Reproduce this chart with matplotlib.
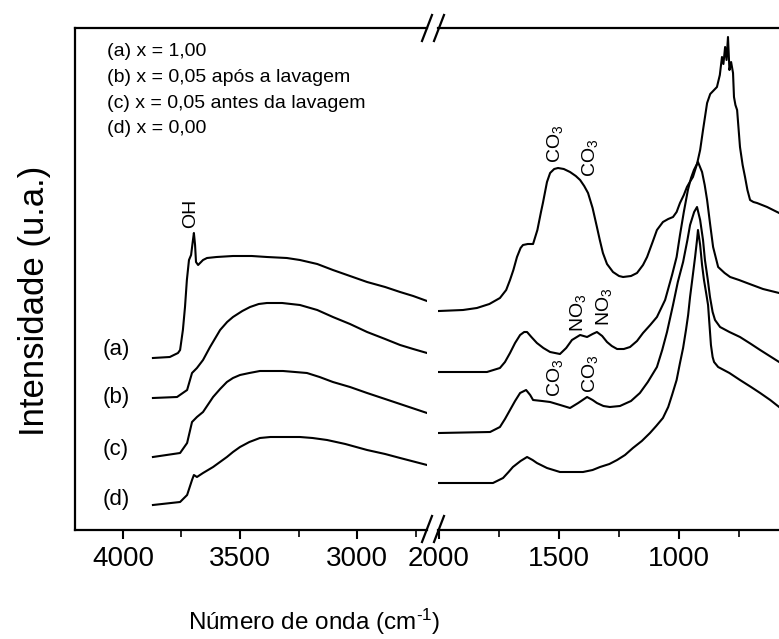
import matplotlib
matplotlib.use("Agg")
import matplotlib.pyplot as plt
from matplotlib.lines import Line2D
from matplotlib.ticker import MultipleLocator

plt.rcParams['font.family'] = ['Liberation Sans', 'DejaVu Sans']
plt.rcParams['mathtext.fontset'] = 'custom'
plt.rcParams['mathtext.rm'] = 'Liberation Sans'
plt.rcParams['mathtext.it'] = 'Liberation Sans'

# ---------------- data (high wavenumber segment) ----------------
wn_a_hi = [3872, 3800, 3765, 3756, 3744, 3735, 3727, 3718, 3709, 3701, 3697, 3692, 3688,
           3679, 3658, 3641, 3600, 3530, 3450, 3385, 3300, 3244, 3170, 3103, 3030, 2957,
           2880, 2816, 2760, 2701]
int_a_hi = [172, 173, 177, 180, 200, 223, 250, 270, 275, 290, 297, 285, 268,
            265, 270, 272, 273, 274, 274, 273, 272, 270, 266, 260, 254, 248,
            243, 238, 234, 229]

wn_b_hi = [3872, 3769, 3726, 3705, 3684, 3658, 3628, 3585, 3555, 3530, 3490, 3457, 3420,
           3385, 3320, 3244, 3170, 3103, 3030, 2957, 2880, 2816, 2760, 2701]
int_b_hi = [132, 133, 140, 157, 162, 170, 183, 200, 208, 213, 219, 223, 226,
            227, 227, 225, 220, 213, 206, 198, 191, 185, 181, 177]

wn_c_hi = [3872, 3756, 3726, 3705, 3684, 3658, 3615, 3585, 3556, 3530, 3500, 3460, 3415,
           3316, 3214, 3160, 3103, 3030, 2957, 2880, 2816, 2701]
int_c_hi = [73, 77, 87, 108, 113, 118, 133, 141, 148, 152, 155, 157, 159,
            159, 157, 153, 148, 143, 137, 131, 126, 117]

wn_d_hi = [3872, 3756, 3726, 3705, 3697, 3684, 3658, 3615, 3556, 3530, 3500, 3460, 3415,
           3370, 3329, 3244, 3190, 3128, 3050, 2957, 2880, 2816, 2701]
int_d_hi = [25, 28, 35, 50, 55, 53, 57, 63, 73, 78, 83, 88, 92,
            93, 93, 93, 92, 90, 86, 80, 76, 72, 65]

# ---------------- data (low wavenumber segment) ----------------
wn_a_lo = [2000, 1900, 1842, 1790, 1746, 1720, 1704, 1690, 1675, 1660, 1650, 1630, 1608,
           1590, 1575, 1567, 1550, 1537, 1520, 1504, 1480, 1454, 1430, 1412, 1395, 1379,
           1360, 1342, 1330, 1317, 1300, 1275, 1250, 1233, 1200, 1175, 1150, 1133, 1110,
           1092, 1067, 1045, 1025, 1010, 996, 980, 967, 955, 942, 925, 912, 900, 883, 870,
           862, 842, 830, 821, 815, 808, 802, 796, 790, 783, 775, 771, 765, 758, 746, 735,
           725, 715, 704, 690, 675, 633, 583]
int_a_lo = [219, 220, 222, 226, 232, 240, 250, 260, 273, 282, 285, 286, 286,
            300, 318, 327, 348, 357, 361, 362, 361, 358, 354, 350, 344, 337,
            322, 303, 290, 277, 266, 258, 254, 253, 254, 257, 265, 273, 288,
            300, 308, 311, 313, 318, 327, 335, 343, 348, 353, 366, 380, 400, 427, 436,
            438, 443, 455, 473, 466, 483, 470, 493, 460, 468, 457, 433, 425, 420, 383, 365,
            353, 340, 330, 328, 327, 323, 317]

wn_b_lo = [2000, 1800, 1746, 1725, 1704, 1683, 1662, 1645, 1633, 1615, 1592, 1565, 1537,
           1496, 1470, 1446, 1412, 1383, 1360, 1342, 1320, 1300, 1280, 1258, 1230, 1204,
           1175, 1150, 1120, 1092, 1058, 1029, 1010, 996, 980, 963, 950, 938, 921, 904,
           893, 883, 870, 858, 837, 810, 787, 750, 717, 650, 583]
int_b_lo = [158, 158, 162, 168, 177, 187, 195, 198, 198, 193, 187, 182, 178,
            176, 182, 190, 195, 193, 196, 198, 194, 188, 184, 181, 181, 183,
            189, 197, 205, 213, 230, 255, 273, 295, 318, 340, 352, 360, 368, 358,
            345, 330, 305, 283, 263, 257, 253, 250, 247, 241, 237]

wn_c_lo = [2000, 1787, 1746, 1725, 1704, 1683, 1662, 1637, 1620, 1608, 1570, 1537, 1495,
           1454, 1420, 1383, 1360, 1342, 1315, 1288, 1246, 1200, 1163, 1130, 1092, 1070,
           1050, 1025, 1005, 983, 965, 954, 937, 925, 912, 900, 892, 880, 871, 860, 850,
           829, 790, 746, 700, 662, 583]
int_c_lo = [97, 98, 103, 111, 120, 129, 137, 140, 135, 130, 129, 128, 125,
            122, 127, 133, 130, 127, 124, 123, 124, 129, 137, 148, 163, 180,
            198, 225, 248, 268, 290, 305, 318, 323, 310, 290, 270, 250, 233, 218, 210,
            203, 198, 193, 186, 180, 168]

wn_d_lo = [2000, 1775, 1733, 1710, 1692, 1660, 1633, 1610, 1592, 1550, 1496, 1450, 1400,
           1360, 1329, 1290, 1258, 1225, 1192, 1155, 1121, 1095, 1067, 1045, 1029, 1010,
           996, 983, 971, 962, 954, 945, 933, 925, 921, 912, 904, 896, 887, 879, 873, 867,
           860, 854, 837, 790, 746, 700, 662, 620, 583]
int_d_lo = [47, 47, 52, 58, 63, 69, 73, 70, 67, 62, 58, 58, 58,
            60, 63, 66, 70, 75, 82, 89, 97, 104, 112, 123, 135, 150,
            167, 182, 200, 215, 233, 250, 273, 290, 300, 285, 265, 250, 237, 225, 205, 185,
            173, 168, 163, 157, 150, 143, 137, 130, 123]

legend_lines = ["(a) x = 1,00", "(b) x = 0,05 após a lavagem",
                "(c) x = 0,05 antes da lavagem", "(d) x = 0,00"]
curve_tags = ["(a)", "(b)", "(c)", "(d)"]
hi_ticks = [4000, 3500, 3000]
lo_ticks = [2000, 1500, 1000]

# ---------------- figure ----------------
W, H = 779, 639
fig = plt.figure(figsize=(W / 100, H / 100), dpi=100)

def fx(px):
    return px / W

def fy(py):
    return 1 - py / H

bottom = fy(530)
height = (530 - 28) / H
axL = fig.add_axes([fx(75), bottom, (427 - 75) / W, height])
axR = fig.add_axes([fx(438), bottom, (800 - 438) / W, height])

lw = 1.5
for wn, y in [(wn_a_hi, int_a_hi), (wn_b_hi, int_b_hi), (wn_c_hi, int_c_hi), (wn_d_hi, int_d_hi)]:
    axL.plot(wn, y, color='black', lw=lw)
for wn, y in [(wn_a_lo, int_a_lo), (wn_b_lo, int_b_lo), (wn_c_lo, int_c_lo), (wn_d_lo, int_d_lo)]:
    axR.plot(wn, y, color='black', lw=lw)

axL.set_xlim(4205, 2701)
axR.set_xlim(2004, 496)
for ax in (axL, axR):
    ax.set_ylim(0, 502)
    ax.set_yticks([])
    for s in ax.spines.values():
        s.set_linewidth(1.6)
    ax.spines['right'].set_visible(False)
    ax.xaxis.set_minor_locator(MultipleLocator(250))
    ax.tick_params(axis='x', which='major', direction='out', length=6.5, width=1.5,
                   labelsize=20, pad=5)
    ax.tick_params(axis='x', which='minor', direction='out', length=5, width=1.2)
axR.spines['left'].set_visible(False)
axL.set_xticks(hi_ticks)
axR.set_xticks(lo_ticks)

# legend text
for i, t in enumerate(legend_lines):
    fig.text(fx(107), fy(52 + 25.5 * i), t, fontsize=14, ha='left', va='center')

# curve tags
for t, py in zip(curve_tags, [350, 397, 450, 500]):
    fig.text(fx(116), fy(py), t, fontsize=16, ha='center', va='center')

# band annotations
ann_kw = dict(fontsize=14, rotation=90, ha='center', va='center')
fig.text(fx(191), fy(213), 'OH', **ann_kw)
fig.text(fx(555), fy(144), r'CO$_3$', **ann_kw)
fig.text(fx(590), fy(158), r'CO$_3$', **ann_kw)
fig.text(fx(578), fy(313), r'NO$_3$', **ann_kw)
fig.text(fx(604), fy(307), r'NO$_3$', **ann_kw)
fig.text(fx(555), fy(378), r'CO$_3$', **ann_kw)
fig.text(fx(590), fy(374), r'CO$_3$', **ann_kw)

# axis labels
fig.text(fx(314), fy(637), r'Número de onda (cm$^{\text{-}1}$)', fontsize=17.5,
         ha='center', va='bottom')
fig.text(fx(35), fy(301), 'Intensidade (u.a.)', fontsize=25, rotation=90,
         ha='center', va='center')

# break marks
for cy in (28, 529):
    for cx in (427, 439):
        fig.add_artist(Line2D([fx(cx - 5), fx(cx + 5)], [fy(cy + 13), fy(cy - 13)],
                              color='black', lw=1.6, transform=fig.transFigure))

fig.savefig('out.png', dpi=100)
